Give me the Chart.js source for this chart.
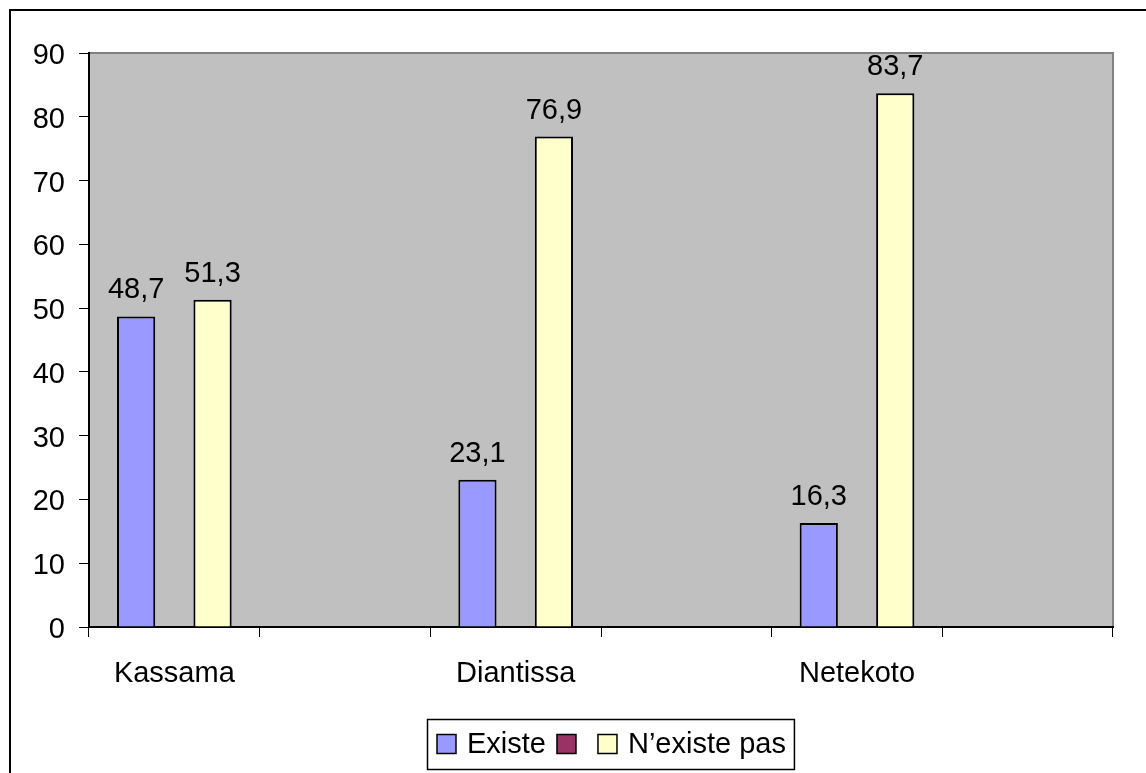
<!DOCTYPE html>
<html>
<head>
<meta charset="utf-8">
<script src="https://cdn.jsdelivr.net/npm/chart.js@4/dist/chart.umd.min.js"></script>
<style>
  html, body { margin: 0; padding: 0; background: #ffffff; }
  #wrap { width: 1146px; height: 773px; position: relative; }
  canvas { display: block; }
</style>
</head>
<body>
<div id="wrap"><canvas id="c" width="1146" height="773"></canvas></div>
<script>
// ---- Data ----
const categories = ['Kassama', '', 'Diantissa', '', 'Netekoto', ''];
const existeValues = [48.7, null, 23.1, null, 16.3, null];
const emptySeriesValues = [null, null, null, null, null, null];
const nexistePasValues = [51.3, null, 76.9, null, 83.7, null];
const seriesNames = ['Existe', '', 'N\u2019existe pas'];
const seriesColors = ['#9999FF', '#993366', '#FFFFCC'];
const yTicksMin = 0, yTicksMax = 90, yTicksStep = 10;

const FONT = '"Liberation Sans", Arial, Helvetica, sans-serif';
const FSIZE = 29;

const framePlugin = {
  id: 'frame',
  beforeDraw(chart) {
    const ctx = chart.ctx, a = chart.chartArea;
    ctx.save();
    ctx.fillStyle = '#ffffff';
    ctx.fillRect(0, 0, chart.width, chart.height);
    // outer chart border (continues beyond the picture on right/bottom)
    ctx.strokeStyle = '#000000';
    ctx.lineWidth = 2;
    ctx.beginPath();
    ctx.moveTo(10, chart.height + 5);
    ctx.lineTo(10, 10);
    ctx.lineTo(chart.width + 5, 10);
    ctx.stroke();
    // plot area
    ctx.fillStyle = '#C0C0C0';
    ctx.fillRect(a.left, a.top, a.right - a.left, a.bottom - a.top);
    ctx.strokeStyle = '#808080';
    ctx.lineWidth = 2;
    ctx.beginPath();
    ctx.moveTo(a.left, a.top);
    ctx.lineTo(a.right, a.top);
    ctx.lineTo(a.right, a.bottom);
    ctx.stroke();
    ctx.restore();
  },
  afterDatasetsDraw(chart) {
    const ctx = chart.ctx;
    ctx.save();
    ctx.font = FSIZE + 'px ' + FONT;
    ctx.fillStyle = '#000000';
    ctx.textAlign = 'center';
    ctx.textBaseline = 'alphabetic';
    chart.data.datasets.forEach((ds, i) => {
      const meta = chart.getDatasetMeta(i);
      meta.data.forEach((el, j) => {
        const v = ds.data[j];
        if (v === null || v === undefined) return;
        const txt = v.toFixed(1).replace('.', ',');
        ctx.fillText(txt, el.x, el.y - 18);
      });
    });
    ctx.restore();
  },
  afterDraw(chart) {
    // legend box
    const ctx = chart.ctx;
    ctx.save();
    ctx.font = FSIZE + 'px ' + FONT;
    const boxLeft = 427, boxTop = 719, boxH = 50;
    const sq = 19, gapText = 11, gapItem = 11, padL = 10, padR = 8;
    let w = padL;
    chart.data.datasets.forEach((ds, i) => {
      w += sq + gapText + (ds.label ? ctx.measureText(ds.label).width : 0);
      if (i < chart.data.datasets.length - 1) w += gapItem;
    });
    w += padR;
    ctx.fillStyle = '#ffffff';
    ctx.fillRect(boxLeft, boxTop, w, boxH);
    ctx.strokeStyle = '#000000';
    ctx.lineWidth = 1.5;
    ctx.strokeRect(boxLeft + 0.5, boxTop + 0.5, w, boxH);
    const cy = boxTop + boxH / 2;
    let x = boxLeft + padL;
    ctx.textBaseline = 'middle';
    ctx.textAlign = 'left';
    chart.data.datasets.forEach((ds, i) => {
      ctx.fillStyle = ds.backgroundColor;
      ctx.fillRect(x, cy - sq / 2, sq, sq);
      ctx.strokeStyle = '#000000';
      ctx.lineWidth = 1.5;
      ctx.strokeRect(x, cy - sq / 2, sq, sq);
      x += sq + gapText;
      if (ds.label) {
        ctx.fillStyle = '#000000';
        ctx.fillText(ds.label, x, cy + 1);
        x += ctx.measureText(ds.label).width;
      }
      x += gapItem;
    });
    ctx.restore();
  }
};

new Chart(document.getElementById('c'), {
  type: 'bar',
  data: {
    labels: categories,
    datasets: [
      { label: seriesNames[0], data: existeValues, backgroundColor: seriesColors[0] },
      { label: seriesNames[1], data: emptySeriesValues, backgroundColor: seriesColors[1] },
      { label: seriesNames[2], data: nexistePasValues, backgroundColor: seriesColors[2] }
    ]
  },
  options: {
    responsive: false,
    animation: false,
    devicePixelRatio: 1,
    layout: { padding: { top: 53, right: 33, left: 0, bottom: 0 } },
    datasets: {
      bar: {
        borderColor: '#000000',
        borderWidth: 2,
        categoryPercentage: 0.672,
        barPercentage: 1.0
      }
    },
    plugins: {
      legend: { display: false },
      tooltip: { enabled: false },
      title: { display: false }
    },
    scales: {
      x: {
        offset: true,
        grid: { display: true, drawOnChartArea: false, drawTicks: true, tickLength: 10, color: '#000000', lineWidth: 1, offset: true },
        border: { display: true, color: '#000000', width: 2 },
        ticks: { color: '#000000', font: { family: FONT, size: FSIZE }, padding: 20, autoSkip: false, maxRotation: 0 },
        afterFit(scale) { scale.height = 146; }
      },
      y: {
        min: yTicksMin,
        max: yTicksMax,
        grid: { display: true, drawOnChartArea: false, drawTicks: true, tickLength: 10, color: '#000000', lineWidth: 1 },
        border: { display: true, color: '#000000', width: 2 },
        ticks: { stepSize: yTicksStep, color: '#000000', font: { family: FONT, size: FSIZE }, padding: 14, labelOffset: 3 },
        afterFit(scale) { scale.width = 89; }
      }
    }
  },
  plugins: [framePlugin]
});
</script>
</body>
</html>
